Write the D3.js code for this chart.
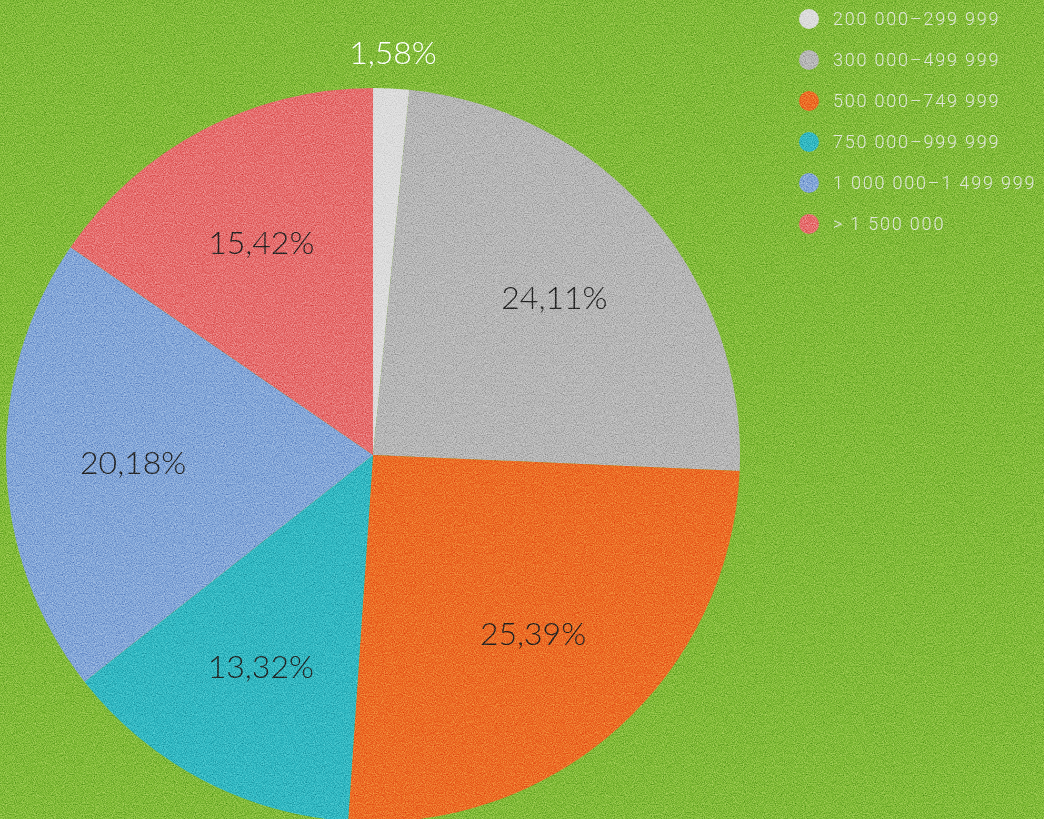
<!DOCTYPE html>
<html>
<head>
<meta charset="utf-8">
<script src="https://cdn.jsdelivr.net/npm/d3@7"></script>
<style>
  html, body { margin: 0; padding: 0; background: #7cb932; overflow: hidden; }
  svg { display: block; }
</style>
</head>
<body>
<div id="viz"></div>
<script>
const width = 1044;
const height = 819;

// data
const categories = ['200 000–299 999', '300 000–499 999', '500 000–749 999',
                    '750 000–999 999', '1 000 000–1 499 999', '> 1 500 000'];
const shares = [1.58, 24.11, 25.39, 13.32, 20.18, 15.42];
const labels = ['1,58%', '24,11%', '25,39%', '13,32%', '20,18%', '15,42%'];
const colors = ['#dcdcdc', '#b6b6b6', '#ec6a24', '#30b8c2', '#82a6d8', '#e66c6c'];

const cx = 373, cy = 455, radius = 367;

const svg = d3.select('#viz')
  .append('svg')
    .attr('width', width)
    .attr('height', height);

// grainy texture, blended over the whole drawing
const defs = svg.append('defs');
const grain = defs.append('filter')
    .attr('id', 'grain')
    .attr('filterUnits', 'userSpaceOnUse')
    .attr('x', 0).attr('y', 0).attr('width', width).attr('height', height);
grain.append('feTurbulence')
    .attr('type', 'fractalNoise')
    .attr('baseFrequency', 0.9)
    .attr('numOctaves', 2)
    .attr('seed', 7)
    .attr('result', 't');
grain.append('feColorMatrix')
    .attr('in', 't')
    .attr('type', 'matrix')
    .attr('values', '1.2 0 0 0 -0.1  1.2 0 0 0 -0.1  1.2 0 0 0 -0.1  0 0 0 0 1')
    .attr('result', 'n');
grain.append('feBlend')
    .attr('in', 'n')
    .attr('in2', 'SourceGraphic')
    .attr('mode', 'soft-light');

const root = svg.append('g').attr('filter', 'url(#grain)');

root.append('rect')
    .attr('width', width)
    .attr('height', height)
    .attr('fill', '#80bb36');

const pie = d3.pie().sort(null).value(d => d);
const arcs = pie(shares);

const arc = d3.arc().innerRadius(0).outerRadius(radius);
const labelArc = d3.arc().innerRadius(240).outerRadius(240);
const outerArc = d3.arc().innerRadius(radius + 36).outerRadius(radius + 36);

const g = root.append('g')
    .attr('transform', `translate(${cx}, ${cy})`);

g.selectAll('path')
  .data(arcs)
  .join('path')
    .attr('d', arc)
    .attr('fill', (d, i) => colors[i]);

g.selectAll('text.lbl')
  .data(arcs)
  .join('text')
    .attr('class', 'lbl')
    .attr('transform', d => {
        const p = d.data < 5 ? outerArc.centroid(d) : labelArc.centroid(d);
        return `translate(${p[0]}, ${p[1]})`;
    })
    .attr('text-anchor', 'middle')
    .attr('dy', '0.35em')
    .attr('font-family', 'Lato, sans-serif')
    .attr('font-weight', 300)
    .attr('font-size', 32)
    .attr('fill', d => d.data < 5 ? '#ffffff' : '#222222')
    .text((d, i) => labels[i]);

// legend
const legend = root.append('g')
    .attr('transform', 'translate(809, 19)');

const items = legend.selectAll('g')
  .data(categories)
  .join('g')
    .attr('transform', (d, i) => `translate(0, ${i * 41})`);

items.append('circle')
    .attr('r', 10)
    .attr('fill', (d, i) => colors[i]);

items.append('text')
    .attr('x', 24)
    .attr('dy', '0.36em')
    .attr('font-family', 'Roboto, sans-serif')
    .attr('font-weight', 300)
    .attr('font-size', 18)
    .attr('letter-spacing', 1.8)
    .attr('fill', '#ececec')
    .attr('fill-opacity', 0.9)
    .text(d => d);
</script>
</body>
</html>
